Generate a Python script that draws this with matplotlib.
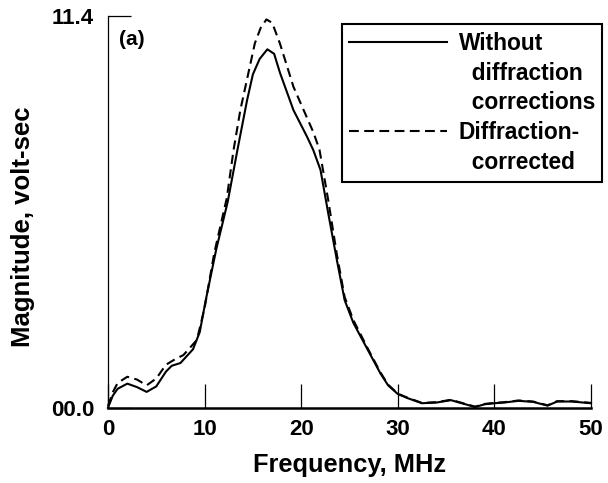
import matplotlib
matplotlib.use('Agg')
import matplotlib.pyplot as plt
from matplotlib.lines import Line2D

plt.rcParams['font.family'] = ['Liberation Sans', 'DejaVu Sans']
plt.rcParams['font.weight'] = 'bold'

# frequency (MHz) and magnitude (volt-sec)
freq_raw = [0, 0.5, 1, 2, 3, 4, 5, 6, 6.6, 7.5, 8.8, 9.5, 10.1, 11.2,
            12.4, 13.4, 14.4, 15.0, 15.7, 16.5, 17.2, 17.8, 19.2, 20.6,
            21.25, 22.0, 22.8, 23.7, 24.5, 25.4, 26.9, 28.2, 29.0, 30, 31,
            32.5, 34, 35.5, 37, 38, 39, 40, 41, 42.5, 44, 45.5, 46.5, 48,
            50]
mag_raw = [0.0, 0.35, 0.55, 0.7, 0.6, 0.46, 0.62, 1.05, 1.22, 1.3, 1.7,
           2.2, 3.1, 4.6, 6.0, 7.5, 8.95, 9.7, 10.15, 10.43, 10.3, 9.75,
           8.66, 7.89, 7.5, 6.92, 5.66, 4.29, 3.13, 2.47, 1.68, 1.0, 0.65,
           0.4, 0.28, 0.13, 0.15, 0.22, 0.1, 0.02, 0.1, 0.13, 0.15, 0.2,
           0.17, 0.06, 0.18, 0.18, 0.13]

freq_corr = [0, 0.5, 1, 2, 3, 4, 5, 6, 7, 7.8, 9.2, 10.0, 11.0, 12.3,
             13.0, 13.7, 15.2, 15.8, 16.4, 17.0, 17.8, 19.2, 21.3, 21.9,
             22.8, 23.7, 24.5, 25.4, 26.9, 28.2, 29.0, 30, 31, 32.5, 34,
             35.5, 37, 38, 39, 40, 41, 42.5, 44, 45.5, 46.5, 48, 50]
mag_corr = [0.05, 0.45, 0.72, 0.9, 0.82, 0.65, 0.85, 1.25, 1.42, 1.53,
            1.97, 2.9, 4.5, 6.1, 7.5, 8.66, 10.6, 11.05, 11.3, 11.2, 10.6,
            9.34, 7.99, 7.5, 6.04, 4.45, 3.22, 2.55, 1.72, 1.03, 0.67, 0.41,
            0.29, 0.14, 0.16, 0.23, 0.11, 0.03, 0.11, 0.14, 0.16, 0.21,
            0.18, 0.07, 0.19, 0.19, 0.14]

x_ticks = [0, 10, 20, 30, 40, 50]
y_ticks = [0.0, 11.4]
y_ticklabels = ['00.0', '11.4']

fig = plt.figure(figsize=(6.08, 4.83), dpi=100)
ax = fig.add_axes([0.1776, 0.1559, 0.7944, 0.811])

ax.plot(freq_raw, mag_raw, '-', color='black', lw=1.5, clip_on=False)
ax.plot(freq_corr, mag_corr, '--', color='black', lw=1.5,
        dashes=(4.4, 2.6), clip_on=False)

ax.set_xlim(0, 50)
ax.set_ylim(0, 11.4)
ax.spines['top'].set_visible(False)
ax.spines['right'].set_visible(False)
ax.spines['left'].set_linewidth(0.9)
ax.spines['bottom'].set_linewidth(1.8)

ax.set_xticks(x_ticks)
ax.set_yticks(y_ticks)
ax.set_yticklabels(y_ticklabels)
ax.tick_params(axis='x', direction='in', length=17.5, width=0.9,
               pad=8, labelsize=16)
ax.tick_params(axis='y', direction='in', length=16.5, width=0.9,
               pad=10, labelsize=16)

ax.set_xlabel('Frequency, MHz', fontsize=18.3, fontweight='bold')
ax.set_ylabel('Magnitude, volt-sec', fontsize=18.5, fontweight='bold')
ax.xaxis.set_label_coords(0.501, -0.116)
ax.yaxis.set_label_coords(-0.152, 0.461)

ax.text(0.022, 0.941, '(a)', transform=ax.transAxes, fontsize=15,
        fontweight='bold', va='center', ha='left')

# legend: extra rows carry the wrapped parts of each label
blank = Line2D([], [], color='none')
handles = [Line2D([], [], color='black', lw=1.5), blank, blank,
           Line2D([], [], color='black', lw=1.5, ls='--', dashes=(4.7, 2.6)),
           blank]
labels = ['Without', '  diffraction', '  corrections', 'Diffraction-',
          '  corrected']
leg = ax.legend(handles, labels, loc='upper left',
                bbox_to_anchor=(0.5620, 0.950), bbox_transform=fig.transFigure,
                borderaxespad=0, fancybox=False, framealpha=1,
                edgecolor='black', fontsize=16.4, handlelength=4.3,
                handletextpad=0.5, borderpad=0.33, labelspacing=0.3)
leg.get_frame().set_linewidth(1.5)

plt.savefig('out.png', dpi=100)
